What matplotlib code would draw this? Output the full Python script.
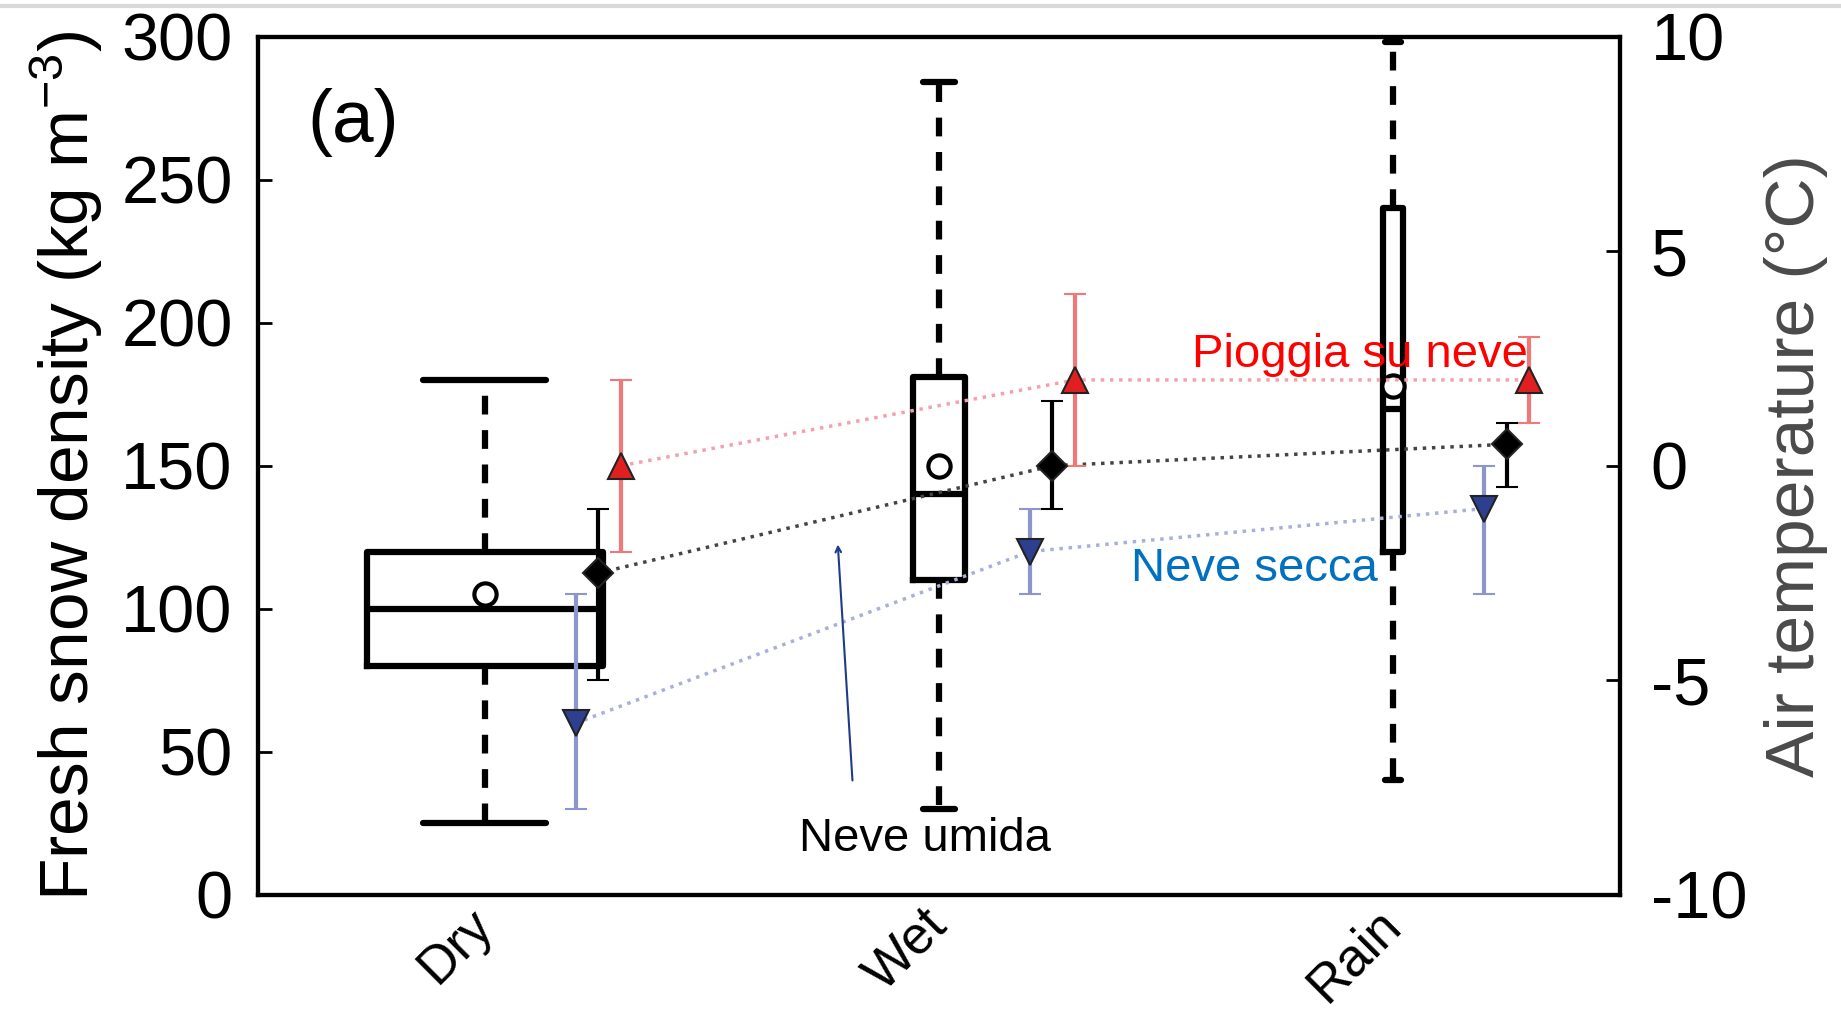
import numpy as np
import matplotlib.pyplot as plt
from matplotlib.lines import Line2D

plt.rcParams['font.family'] = ['Liberation Sans', 'DejaVu Sans']
plt.rcParams['mathtext.fontset'] = 'custom'
plt.rcParams['mathtext.rm'] = 'Liberation Sans'
plt.rcParams['mathtext.default'] = 'regular'
plt.rcParams['axes.unicode_minus'] = False

categories = ['Dry', 'Wet', 'Rain']
pos = np.array([1, 2, 3])

# fresh snow density boxes (kg m-3)
whislo = [25, 30, 40]
q1 = [80, 110, 120]
med = [100, 140, 170]
q3 = [120, 181, 240]
whishi = [180, 284, 298]
means = [105, 150, 178]
box_w = [0.52, 0.115, 0.045]
cap_w = [0.27, 0.07, 0.035]

# air temperature (deg C): value, lower and upper end of bar
t_secca = np.array([-6, -2, -1])
t_secca_lo = np.array([-8, -3, -3])
t_secca_hi = np.array([-3, -1, 0])
t_umida = np.array([-2.5, 0, 0.5])
t_umida_lo = np.array([-5, -1, -0.5])
t_umida_hi = np.array([-1, 1.5, 1])
t_pioggia = np.array([0, 2, 2])
t_pioggia_lo = np.array([-2, 0, 1])
t_pioggia_hi = np.array([2, 4, 3])

fig = plt.figure(figsize=(18.41, 10.18), dpi=100)
ax = fig.add_axes([0.140, 0.121, 0.740, 0.843])

stats = []
for i in range(3):
    stats.append(dict(whislo=whislo[i], q1=q1[i], med=med[i], q3=q3[i],
                      whishi=whishi[i], mean=means[i], fliers=[]))
lw = 4.5
ax.bxp(stats, positions=pos, widths=box_w, capwidths=cap_w, showmeans=True,
       showfliers=False,
       boxprops=dict(color='k', lw=lw),
       whiskerprops=dict(color='k', lw=lw, ls=(0, (3, 2.5))),
       capprops=dict(color='k', lw=lw, solid_capstyle='round'),
       medianprops=dict(color='k', lw=lw),
       meanprops=dict(marker='o', markerfacecolor='white', markeredgecolor='k',
                      markersize=16, markeredgewidth=3))

ax.set_xlim(0.5, 3.5)
ax.set_ylim(0, 300)
ax.set_yticks([0, 50, 100, 150, 200, 250, 300])
ax.set_xticks(pos)
ax.set_xticklabels(categories, rotation=45, ha='right', va='center',
                   rotation_mode='anchor', fontsize=38)
ax.tick_params(axis='x', length=0, pad=16)
ax.tick_params(axis='y', direction='in', length=10, width=2, labelsize=48,
               pad=18, right=True)
ax.set_ylabel('Fresh snow density (kg m$^{-3}$)', fontsize=50, labelpad=12)
for s in ax.spines.values():
    s.set_linewidth(3)

ax.text(0.61, 270, '(a)', fontsize=54, ha='left', va='center')

ax2 = ax.twinx()
ax2.set_ylim(-10, 10)
ax2.set_yticks([-10, -5, 0, 5, 10])
ax2.tick_params(axis='y', direction='in', length=10, width=2, labelsize=48, pad=22)
ax2.set_ylabel('Air temperature (°C)', fontsize=50, color='#4a4a4a', labelpad=12)
for s in ax2.spines.values():
    s.set_linewidth(3)

series = [
    (pos + 0.20, t_secca, t_secca_lo, t_secca_hi, 'v', '#2f3f8f', '#8c96cc', '#a8b0d8', 19),
    (pos + 0.25, t_umida, t_umida_lo, t_umida_hi, 'D', 'k', 'k', '#444444', 15),
    (pos + 0.30, t_pioggia, t_pioggia_lo, t_pioggia_hi, '^', '#e02020', '#f07878', '#f4a0b0', 19),
]
for x, y, lo, hi, mk, fc, ec, lc, ms in series:
    ax2.plot(x, y, ls=':', color=lc, lw=2.5, zorder=2)
    ax2.errorbar(x, y, yerr=[y - lo, hi - y], fmt=mk, color=ec, ecolor=ec,
                 elinewidth=3, capsize=8, capthick=3, markersize=ms,
                 markerfacecolor=fc, markeredgecolor='#222222',
                 markeredgewidth=1.5, zorder=3)

ax2.text(2.557, 2.57, 'Pioggia su neve', color='#ff0000', fontsize=34,
         ha='left', va='center', zorder=5)
ax2.text(2.423, -2.4, 'Neve secca', color='#0070c0', fontsize=34,
         ha='left', va='center', zorder=5)
ax2.text(1.97, -8.7, 'Neve umida', color='k', fontsize=34,
         ha='center', va='center', zorder=5)
ax2.annotate('', xy=(1.777, -1.77), xytext=(1.81, -7.4),
             arrowprops=dict(arrowstyle='->', color='#1f3a8a', lw=1.5))

fig.add_artist(Line2D([0, 1], [0.994, 0.994], color='#d9d9d9', lw=3))

fig.savefig('out.png', dpi=100)
